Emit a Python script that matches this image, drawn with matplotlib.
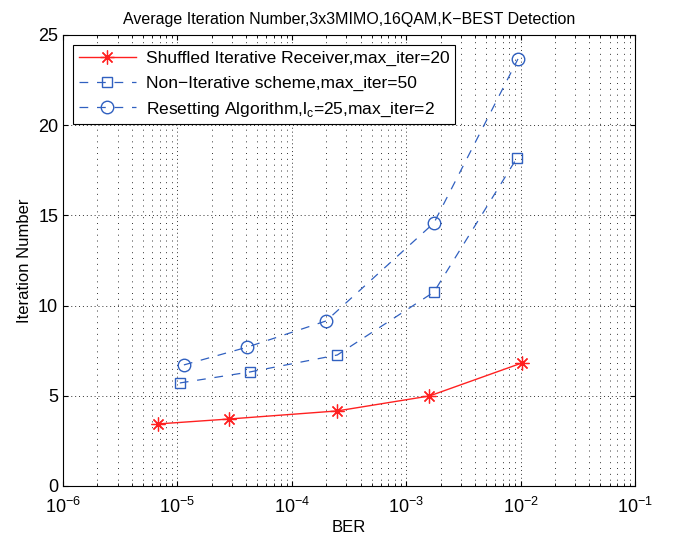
import numpy as np
import matplotlib
matplotlib.use('Agg')
import matplotlib.pyplot as plt

plt.rcParams['font.family'] = ['Liberation Sans', 'DejaVu Sans']

# data
ber_shuffled = [6.8e-6, 2.8e-5, 2.5e-4, 1.6e-3, 1.03e-2]
iter_shuffled = [3.44, 3.71, 4.16, 4.99, 6.82]

ber_noniter = [1.05e-5, 4.3e-5, 2.5e-4, 1.75e-3, 9.3e-3]
iter_noniter = [5.71, 6.32, 7.26, 10.75, 18.18]

ber_reset = [1.14e-5, 4.1e-5, 2.0e-4, 1.75e-3, 9.5e-3]
iter_reset = [6.71, 7.7, 9.15, 14.58, 23.67]

labels = ['Shuffled Iterative Receiver,max_iter=20',
          'Non\u2212Iterative scheme,max_iter=50',
          'Resetting Algorithm,l$_\\mathregular{c}$=25,max_iter=2']

fig = plt.figure(figsize=(6.76, 5.38), dpi=100)
ax = fig.add_axes([0.0932, 0.0967, 0.846, 0.8383])

red = '#ff2020'
blue = '#3060c0'
ax.semilogx(ber_shuffled, iter_shuffled, '-', color=red, marker=(8, 2, 0), ms=10,
            mew=0.9, lw=1, label=labels[0])
ax.semilogx(ber_noniter, iter_noniter, '--', color=blue, marker='s', ms=7,
            mfc='none', mew=1, lw=0.9, dashes=(7, 7), label=labels[1])
ax.semilogx(ber_reset, iter_reset, '--', color=blue, marker='o', ms=9,
            mfc='none', mew=1, lw=0.9, dashes=(7, 7), label=labels[2])

ax.set_xlim(1e-6, 1e-1)
ax.set_ylim(0, 25)
ax.set_yticks([0, 5, 10, 15, 20, 25])
ax.grid(True, which='major', ls=(0, (1, 3)), color='#333333', lw=0.7)
ax.grid(True, which='minor', axis='x', ls=(0, (1, 5)), color='#333333', lw=0.7)
ax.tick_params(which='both', direction='in', top=True, right=True, labelsize=13)
ax.tick_params(axis='x', pad=8)
for s in ax.spines.values():
    s.set_linewidth(0.8)

ax.set_xlabel('BER', fontsize=12, labelpad=2)
ax.set_ylabel('Iteration Number', fontsize=12)
ax.set_title('Average Iteration Number,3x3MIMO,16QAM,K\u2212BEST Detection',
             fontsize=11.5, pad=8)

leg = ax.legend(loc='upper left', fontsize=12.5, fancybox=False, framealpha=1,
                edgecolor='black', borderaxespad=0.6, handlelength=3.3,
                labelspacing=0.55, borderpad=0.3, handletextpad=0.6)
leg.get_frame().set_linewidth(0.8)

fig.savefig('out.png', dpi=100)
